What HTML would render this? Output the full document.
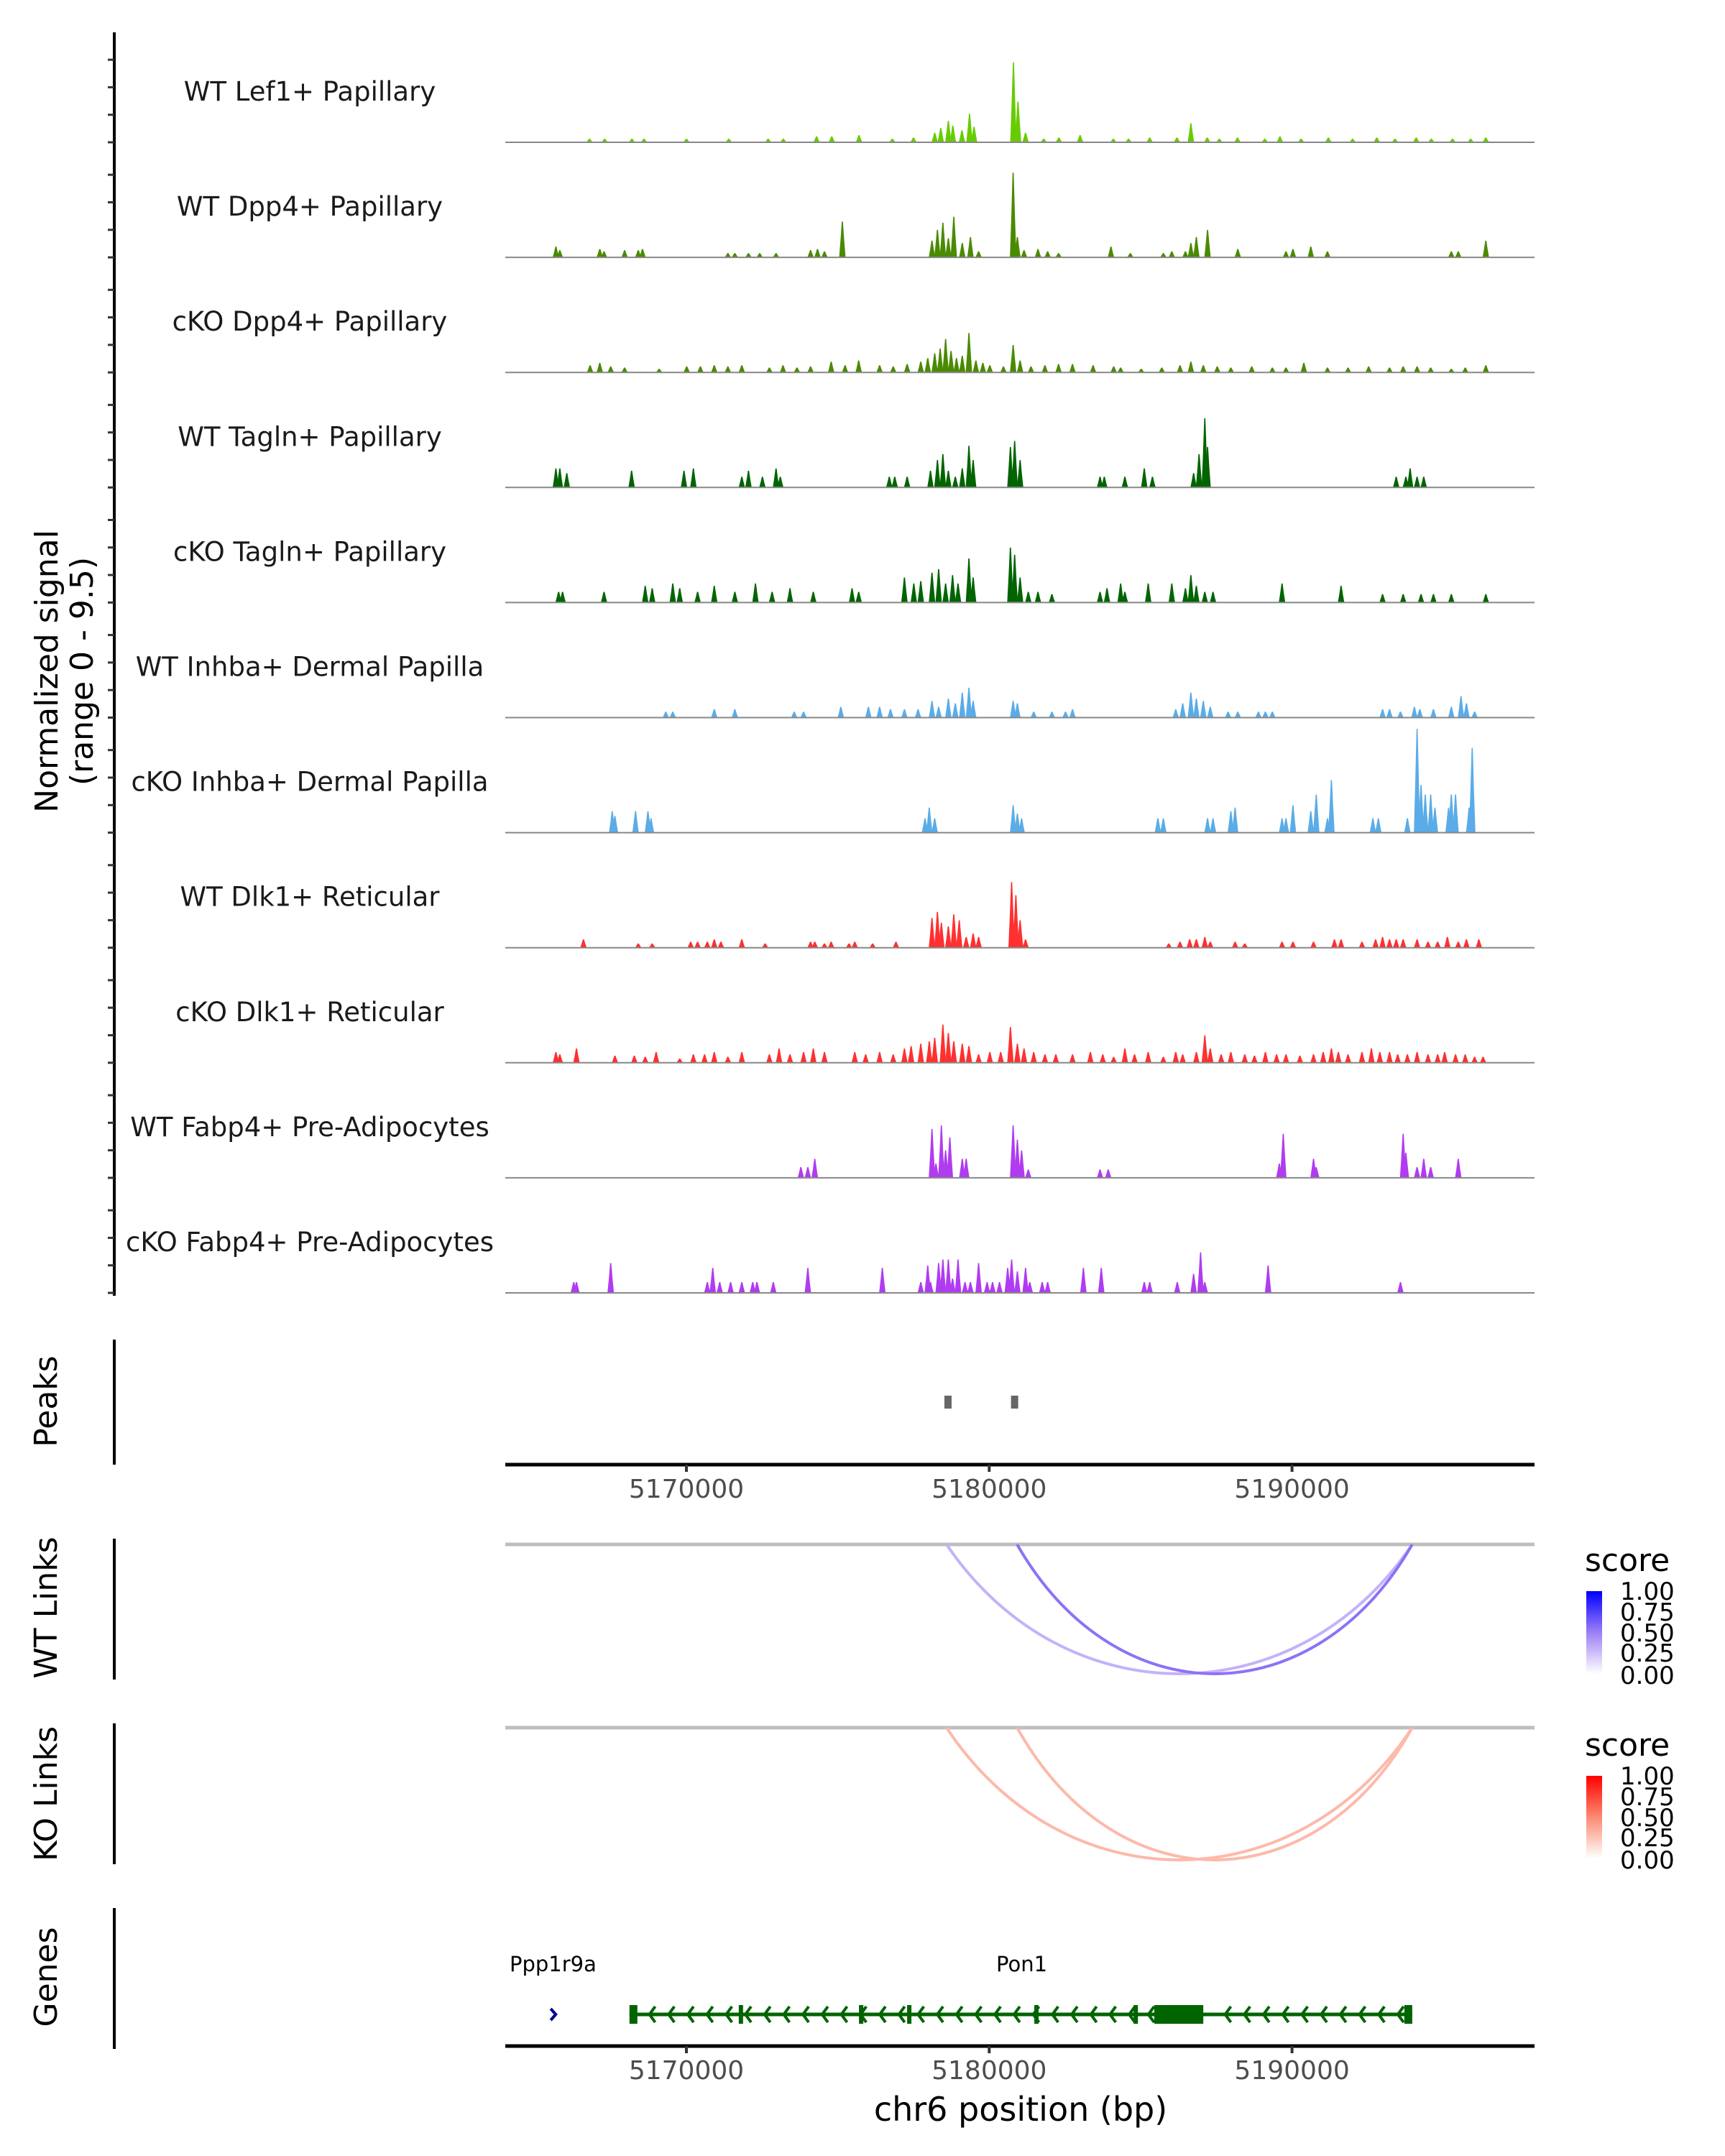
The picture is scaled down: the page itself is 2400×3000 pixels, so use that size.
<!DOCTYPE html>
<html><head><meta charset="utf-8">
<style>
html,body{margin:0;padding:0;background:#fff;}
svg{display:block;font-family:"DejaVu Sans","Liberation Sans",sans-serif;}
</style></head>
<body>
<svg id="fig" width="2400" height="3000" viewBox="0 0 2400 3000" xmlns="http://www.w3.org/2000/svg">
  <g id="tracks"></g>
  <line x1="159" y1="45" x2="159" y2="1803" stroke="#000" stroke-width="4"/>
  <g id="yticks"></g>
  <text transform="translate(80,934) rotate(-90)" text-anchor="middle" font-size="44" fill="#000">Normalized signal</text>
  <text transform="translate(129,934) rotate(-90)" text-anchor="middle" font-size="44" fill="#000">(range 0 - 9.5)</text>

  <line x1="159" y1="1864" x2="159" y2="2038" stroke="#000" stroke-width="4"/>
  <text transform="translate(79,1950) rotate(-90)" text-anchor="middle" font-size="44">Peaks</text>
  <g id="peaks"></g>
  <g id="xaxis1"></g>

  <line x1="159" y1="2141" x2="159" y2="2337" stroke="#000" stroke-width="4"/>
  <text transform="translate(79,2237) rotate(-90)" text-anchor="middle" font-size="44">WT Links</text>
  <g id="wtlinks"></g>

  <line x1="159" y1="2398" x2="159" y2="2594" stroke="#000" stroke-width="4"/>
  <text transform="translate(79,2496) rotate(-90)" text-anchor="middle" font-size="44">KO Links</text>
  <g id="kolinks"></g>

  <line x1="159" y1="2655" x2="159" y2="2851" stroke="#000" stroke-width="4"/>
  <text transform="translate(79,2751) rotate(-90)" text-anchor="middle" font-size="44">Genes</text>
  <g id="genes"></g>
  <g id="xaxis2"></g>
  <text x="1420" y="2951" text-anchor="middle" font-size="46">chr6 position (bp)</text>

  <defs>
    <linearGradient id="gradWT" x1="0" y1="1" x2="0" y2="0">
      <stop offset="0" stop-color="#ffffff"/><stop offset="0.5" stop-color="#9d7ff5"/><stop offset="1" stop-color="#0000ff"/>
    </linearGradient>
    <linearGradient id="gradKO" x1="0" y1="1" x2="0" y2="0">
      <stop offset="0" stop-color="#ffffff"/><stop offset="0.5" stop-color="#fb8a72"/><stop offset="1" stop-color="#ff0000"/>
    </linearGradient>
  </defs>
  <g>
    <text x="2205" y="2186" font-size="44">score</text>
    <rect x="2207" y="2214" width="22" height="115" fill="url(#gradWT)"/>
    <g font-size="34">
      <text x="2254" y="2226">1.00</text><text x="2254" y="2255">0.75</text><text x="2254" y="2284">0.50</text><text x="2254" y="2312">0.25</text><text x="2254" y="2343">0.00</text>
    </g>
  </g>
  <g>
    <text x="2205" y="2443" font-size="44">score</text>
    <rect x="2207" y="2471" width="22" height="115" fill="url(#gradKO)"/>
    <g font-size="34">
      <text x="2254" y="2483">1.00</text><text x="2254" y="2512">0.75</text><text x="2254" y="2541">0.50</text><text x="2254" y="2569">0.25</text><text x="2254" y="2600">0.00</text>
    </g>
  </g>
</svg>
<script>
// ---- data (positions in kb on chr6, values in normalized signal) ----
const trackNames = ["WT Lef1+ Papillary","WT Dpp4+ Papillary","cKO Dpp4+ Papillary","WT Tagln+ Papillary","cKO Tagln+ Papillary","WT Inhba+ Dermal Papilla","cKO Inhba+ Dermal Papilla","WT Dlk1+ Reticular","cKO Dlk1+ Reticular","WT Fabp4+ Pre-Adipocytes","cKO Fabp4+ Pre-Adipocytes"];
const trackColors = ["#66cc00","#4a8a00","#4a8a00","#006400","#006400","#5aace8","#5aace8","#ff3030","#ff3030","#b03cf0","#b03cf0"];
const sigLef1WT = [[5166.8,.3],[5167.3,.3],[5168.2,.3],[5168.6,.3],[5170,.3],[5171.4,.3],[5172.7,.3],[5173.2,.3],[5174.3,.5],[5174.8,.5],[5175.7,.6],[5176.8,.3],[5177.5,.4],[5178.2,.8],[5178.4,1.2],[5178.65,1.8],[5178.8,1.4],[5179.1,1.0],[5179.35,2.4],[5179.5,1.3],[5180.8,6.7],[5180.95,3.4],[5181.2,.8],[5181.8,.3],[5182.3,.4],[5183.0,.6],[5184.1,.3],[5184.6,.3],[5185.3,.4],[5186.2,.4],[5186.66,1.6],[5187.2,.4],[5187.6,.3],[5188.2,.4],[5189.1,.3],[5189.6,.5],[5190.3,.3],[5191.2,.4],[5192.0,.3],[5192.8,.4],[5193.4,.3],[5194.1,.4],[5194.6,.3],[5195.3,.3],[5195.9,.3],[5196.4,.4]];
const sigDpp4WT = [[5165.69,.9],[5165.82,.6],[5167.14,.7],[5167.28,.5],[5167.96,.6],[5168.41,.6],[5168.55,.7],[5171.37,.35],[5171.6,.35],[5172.05,.35],[5172.42,.35],[5172.96,.35],[5174.1,.6],[5174.33,.7],[5174.56,.5],[5175.15,3.0],[5178.11,1.4],[5178.29,2.3],[5178.47,2.9],[5178.65,1.6],[5178.83,3.4],[5179.11,1.2],[5179.38,1.7],[5179.65,.5],[5180.79,7.1],[5180.93,1.7],[5181.15,.6],[5181.61,.7],[5181.93,.5],[5182.29,.35],[5184.02,.9],[5184.66,.35],[5185.75,.35],[5186.03,.5],[5186.48,.5],[5186.66,1.2],[5186.84,1.7],[5187.21,2.3],[5188.21,.7],[5189.8,.5],[5190.03,.7],[5190.62,.9],[5191.17,.5],[5195.26,.5],[5195.49,.5],[5196.4,1.4]];
const sigDpp4KO = [[5166.82,.6],[5167.14,.8],[5167.5,.5],[5167.96,.4],[5169.1,.3],[5170.01,.5],[5170.46,.5],[5170.92,.6],[5171.37,.5],[5171.83,.6],[5172.74,.4],[5173.19,.6],[5173.65,.4],[5174.1,.5],[5174.78,.9],[5175.24,.6],[5175.69,1.0],[5176.38,.6],[5176.83,.5],[5177.29,.7],[5177.74,.9],[5177.97,1.2],[5178.2,1.6],[5178.38,2.0],[5178.56,2.8],[5178.74,1.8],[5178.92,1.2],[5179.11,1.4],[5179.33,3.3],[5179.56,1.0],[5179.79,.8],[5180.02,.6],[5180.47,.5],[5180.79,2.3],[5181.02,1.0],[5181.38,.5],[5181.84,.6],[5182.29,.7],[5182.75,.7],[5183.43,.6],[5184.11,.5],[5184.34,.4],[5185.02,.3],[5185.7,.4],[5186.3,.6],[5186.66,.9],[5187.07,.6],[5187.53,.5],[5187.98,.4],[5188.67,.5],[5189.35,.4],[5189.8,.4],[5190.39,.8],[5191.17,.4],[5191.85,.4],[5192.53,.5],[5193.22,.4],[5193.67,.5],[5194.13,.5],[5194.58,.4],[5195.26,.3],[5195.72,.4],[5196.4,.6]];
const sigTaglnWT = [[5165.69,1.6],[5165.82,1.6],[5166.05,1.2],[5168.19,1.4],[5169.92,1.4],[5170.23,1.6],[5171.83,.9],[5172.05,1.4],[5172.51,.9],[5172.96,1.6],[5173.1,.9],[5176.7,.9],[5176.88,.9],[5177.29,.9],[5178.06,1.4],[5178.29,2.3],[5178.47,2.8],[5178.65,1.4],[5178.88,.9],[5179.11,1.6],[5179.33,3.5],[5179.47,2.3],[5180.7,3.4],[5180.84,3.9],[5181.02,2.3],[5183.66,.9],[5183.8,.9],[5184.48,.9],[5185.12,1.6],[5185.39,.9],[5186.75,1.2],[5186.93,2.8],[5187.12,5.8],[5187.21,3.4],[5193.44,.9],[5193.76,.9],[5193.9,1.6],[5194.13,.9],[5194.35,.9]];
const sigTaglnKO = [[5165.78,.9],[5165.91,.9],[5167.28,.9],[5168.64,1.4],[5168.87,1.2],[5169.55,1.6],[5169.78,1.2],[5170.37,.9],[5170.92,1.4],[5171.6,.9],[5172.28,1.6],[5172.83,.9],[5173.42,1.2],[5174.19,.9],[5175.47,1.2],[5175.69,.9],[5177.2,2.1],[5177.51,1.6],[5177.74,1.8],[5178.11,2.5],[5178.33,2.8],[5178.56,1.6],[5178.79,2.3],[5178.97,1.6],[5179.33,3.7],[5179.47,2.1],[5180.7,4.6],[5180.84,4.0],[5181.02,2.1],[5181.29,.9],[5181.61,.9],[5182.07,.7],[5183.66,.9],[5183.89,1.2],[5184.34,1.6],[5184.48,.9],[5185.25,1.6],[5186.03,1.6],[5186.48,1.2],[5186.66,2.3],[5186.84,1.4],[5187.12,.9],[5187.39,.9],[5189.67,1.6],[5191.62,1.4],[5192.99,.7],[5193.67,.7],[5194.26,.7],[5194.67,.7],[5195.26,.7],[5196.4,.7]];
const sigInhbaWT = [[5169.32,.5],[5169.55,.5],[5170.92,.7],[5171.6,.7],[5173.56,.5],[5173.87,.5],[5175.1,.9],[5176.01,.9],[5176.38,.9],[5176.74,.7],[5177.2,.7],[5177.65,.7],[5178.11,1.4],[5178.33,.9],[5178.65,1.6],[5178.88,1.2],[5179.11,2.1],[5179.33,2.5],[5179.47,1.4],[5180.79,1.4],[5180.93,1.2],[5181.47,.5],[5182.07,.5],[5182.52,.5],[5182.75,.7],[5186.16,.7],[5186.39,1.2],[5186.66,2.1],[5186.84,1.6],[5187.07,1.4],[5187.3,.9],[5187.89,.5],[5188.21,.5],[5188.89,.5],[5189.12,.5],[5189.35,.5],[5192.99,.7],[5193.22,.7],[5193.58,.5],[5194.04,.9],[5194.22,.7],[5194.67,.7],[5195.26,.9],[5195.58,1.8],[5195.76,1.2],[5196.03,.5]];
const sigInhbaKO = [[5167.55,1.8],[5167.64,1.4],[5168.32,1.8],[5168.73,1.8],[5168.83,1.2],[5177.88,1.2],[5178.02,2.1],[5178.2,1.2],[5180.79,2.3],[5180.93,1.6],[5181.07,1.2],[5185.57,1.2],[5185.75,1.2],[5187.21,1.2],[5187.39,1.2],[5187.98,1.8],[5188.12,2.1],[5189.67,1.2],[5189.8,1.2],[5190.03,2.3],[5190.62,1.8],[5190.8,3.2],[5191.17,1.2],[5191.3,4.4],[5192.67,1.2],[5192.85,1.2],[5193.81,1.2],[5194.13,8.7],[5194.26,4.0],[5194.4,3.2],[5194.58,3.2],[5194.72,2.1],[5195.17,2.1],[5195.26,3.2],[5195.4,3.2],[5195.85,2.1],[5195.95,7.1]];
const sigDlk1WT = [[5166.6,.7],[5168.41,.35],[5168.87,.35],[5170.14,.5],[5170.37,.5],[5170.69,.5],[5170.92,.7],[5171.14,.5],[5171.83,.7],[5172.6,.35],[5174.1,.5],[5174.24,.5],[5174.56,.35],[5174.78,.5],[5175.37,.35],[5175.56,.5],[5176.15,.35],[5176.92,.5],[5178.11,2.5],[5178.29,3.0],[5178.42,2.1],[5178.65,1.8],[5178.83,2.8],[5179.01,2.3],[5179.24,.9],[5179.47,1.2],[5179.65,.9],[5180.74,5.5],[5180.88,4.4],[5181.02,2.3],[5181.2,.7],[5185.93,.35],[5186.3,.5],[5186.62,.7],[5186.84,.7],[5187.12,.9],[5187.3,.5],[5188.12,.5],[5188.44,.35],[5189.67,.5],[5190.03,.5],[5190.71,.5],[5191.4,.7],[5191.62,.7],[5192.31,.5],[5192.76,.7],[5192.99,.9],[5193.22,.7],[5193.44,.7],[5193.67,.7],[5194.13,.7],[5194.49,.5],[5194.81,.5],[5195.13,.9],[5195.49,.5],[5195.76,.7],[5196.17,.7]];
const sigDlk1KO = [[5165.69,.9],[5165.82,.7],[5166.37,1.2],[5167.64,.6],[5168.28,.6],[5168.64,.5],[5169.0,.9],[5169.78,.35],[5170.23,.7],[5170.6,.7],[5170.92,.9],[5171.37,.5],[5171.83,.9],[5172.74,.7],[5173.06,1.2],[5173.42,.7],[5173.87,.9],[5174.19,1.2],[5174.56,.9],[5175.56,.9],[5175.92,.7],[5176.38,.9],[5176.83,.7],[5177.2,1.2],[5177.42,1.4],[5177.74,1.6],[5178.02,1.8],[5178.2,2.1],[5178.47,3.2],[5178.65,2.5],[5178.83,1.8],[5179.11,1.6],[5179.33,1.4],[5179.65,.7],[5180.02,.9],[5180.38,.9],[5180.7,3.0],[5180.93,1.6],[5181.15,1.2],[5181.47,.9],[5181.84,.7],[5182.2,.7],[5182.75,.7],[5183.34,.9],[5183.75,.7],[5184.11,.5],[5184.48,1.2],[5184.8,.7],[5185.25,.9],[5185.75,.5],[5186.16,.9],[5186.39,.7],[5186.84,.9],[5187.12,2.3],[5187.3,1.2],[5187.66,.7],[5187.98,.9],[5188.44,.7],[5188.76,.6],[5189.12,.9],[5189.49,.7],[5189.8,.7],[5190.26,.6],[5190.71,.7],[5191.03,.9],[5191.3,1.2],[5191.53,.9],[5191.85,.7],[5192.31,.9],[5192.62,1.2],[5192.9,.9],[5193.22,.9],[5193.49,.7],[5193.81,.7],[5194.13,.9],[5194.49,.7],[5194.81,.7],[5195.04,.9],[5195.4,.7],[5195.72,.7],[5196.03,.5],[5196.31,.5]];
const sigFabp4WT = [[5173.78,.9],[5174.01,.9],[5174.24,1.6],[5178.11,4.1],[5178.24,1.2],[5178.42,4.4],[5178.56,2.3],[5178.7,3.4],[5179.11,1.6],[5179.24,1.6],[5180.79,4.4],[5180.93,3.2],[5181.07,2.3],[5181.29,.7],[5183.66,.7],[5183.93,.7],[5189.58,1.2],[5189.71,3.7],[5190.71,1.6],[5190.8,.9],[5193.67,3.7],[5193.76,2.1],[5194.13,.9],[5194.35,1.6],[5194.58,.9],[5195.49,1.6]];
const sigFabp4KO = [[5166.28,.9],[5166.37,.9],[5167.5,2.5],[5170.69,.9],[5170.87,2.1],[5171.1,.9],[5171.46,.9],[5171.83,.9],[5172.19,.9],[5172.33,.9],[5172.87,.9],[5174.01,2.1],[5176.47,2.1],[5177.74,.9],[5177.97,2.3],[5178.06,.9],[5178.33,2.5],[5178.47,2.8],[5178.65,2.8],[5178.79,1.2],[5178.97,2.8],[5179.2,.9],[5179.38,.9],[5179.65,2.5],[5179.93,.9],[5180.11,.9],[5180.34,.9],[5180.61,2.1],[5180.74,2.8],[5180.93,1.8],[5181.2,2.1],[5181.34,.9],[5181.75,.9],[5181.93,.9],[5183.11,2.1],[5183.7,2.1],[5185.12,.9],[5185.3,.9],[5186.21,.9],[5186.75,1.6],[5186.98,3.4],[5187.12,.9],[5189.21,2.3],[5193.58,.9]];
const trackSignals = [sigLef1WT,sigDpp4WT,sigDpp4KO,sigTaglnWT,sigTaglnKO,sigInhbaWT,sigInhbaKO,sigDlk1WT,sigDlk1KO,sigFabp4WT,sigFabp4KO];
const xTicks = [5170000,5180000,5190000];
const peakStarts = [5178.52,5180.72];
const peakEnds = [5178.66,5180.95];
const wtLinkStarts = [5178.59,5180.92];
const wtLinkEnds = [5193.97,5193.97];
const wtLinkScores = [0.3,0.55];
const koLinkStarts = [5178.59,5180.92];
const koLinkEnds = [5193.97,5193.97];
const koLinkScores = [0.3,0.3];
const geneStart = 5168.12, geneEnd = 5193.97;
const exonPositions = [5171.80,5175.77,5177.36,5181.56,5184.84];
const cdsStart = 5185.45, cdsEnd = 5187.07;
const otherGenePos = 5165.59;

// ---- scales ----
const NS="http://www.w3.org/2000/svg";
const PLOT_L = 703, PLOT_R = 2135;
function X(kb){ return 955 + (kb-5170)*42.13; }
const PXPERUNIT = 16.6;
const base0 = 198, trackStep = 160.1;
function mk(tag, attrs, parent){ const e=document.createElementNS(NS,tag); for(const k in attrs) e.setAttribute(k,attrs[k]); parent.appendChild(e); return e; }

// ---- tracks ----
const gT = document.getElementById('tracks');
trackNames.forEach((name,i)=>{
  const b = base0 + i*trackStep;
  const g = mk('g',{},gT);
  
  
  const lbl = mk('text',{x:431,y:b-58,'text-anchor':'middle','font-size':37,fill:'#1a1a1a'},g);
  lbl.textContent = name;
  
  
  trackSignals[i].forEach(([kb,v])=>{
    const x = X(kb), h = v*PXPERUNIT;
    const p = mk('polygon',{points:`${x-4.5},${b} ${x-2.5},${b-h*0.5} ${x-0.8},${b-h} ${x+0.8},${b-h} ${x+2.5},${b-h*0.5} ${x+4.5},${b}`,fill:trackColors[i]},g);
    
    
  });
  const bl = mk('line',{x1:PLOT_L,x2:PLOT_R,y1:b,y2:b,stroke:'#888','stroke-width':2},g);
  
  
});
const gY = document.getElementById('yticks');
for(let i=0;i<11;i++){
  for(let k=0;k<4;k++){
    const y = base0 + i*trackStep - k*38.3;
    const t = mk('line',{x1:150,x2:159,y1:y,y2:y,stroke:'#333','stroke-width':3},gY);
    
    
  }
}

// ---- peaks ----
const gP = document.getElementById('peaks');
peakStarts.forEach((s,i)=>{
  const r = mk('rect',{x:X(s),y:1942,width:Math.max(10,X(peakEnds[i])-X(s)),height:18,fill:'#666'},gP);
  
  
});

// ---- x axes ----
function xAxis(id, y){
  const g = document.getElementById(id);
  const l = mk('line',{x1:PLOT_L,x2:PLOT_R,y1:y,y2:y,stroke:'#000','stroke-width':5},g);
  
  
  xTicks.forEach(t=>{
    const x = X(t/1000);
    const tk = mk('line',{x1:x,x2:x,y1:y,y2:y+10,stroke:'#333','stroke-width':4},g);
    
    
    const tx = mk('text',{x:x,y:y+46,'text-anchor':'middle','font-size':36,fill:'#4d4d4d'},g);
    tx.textContent = String(t);
    
    
  });
}
xAxis('xaxis1',2038);
xAxis('xaxis2',2847);

// ---- links ----
function mix(c1,c2,t){ return c1.map((v,i)=>Math.round(v+(c2[i]-v)*t)); }
function scoreColor(s, mid, end){
  const w=[255,255,255];
  const c = s<0.5 ? mix(w,mid,s/0.5) : mix(mid,end,(s-0.5)/0.5);
  return `rgb(${c[0]},${c[1]},${c[2]})`;
}
function links(id, top, depth, starts, ends, scores, mid, end){
  const g = document.getElementById(id);
  const bl = mk('line',{x1:PLOT_L,x2:PLOT_R,y1:top,y2:top,stroke:'#bebebe','stroke-width':5},g);
  
  
  starts.forEach((s,i)=>{
    const x1=X(s), x2=X(ends[i]);
    const p = mk('path',{d:`M${x1},${top} C${x1+(x2-x1)*0.25},${top+depth*1.333} ${x1+(x2-x1)*0.75},${top+depth*1.333} ${x2},${top}`,fill:'none',stroke:scoreColor(scores[i],mid,end),'stroke-width':4},g);
    
    
  });
}
links('wtlinks',2149,180,wtLinkStarts,wtLinkEnds,wtLinkScores,[157,127,245],[0,0,255]);
links('kolinks',2404,184,koLinkStarts,koLinkEnds,koLinkScores,[251,138,114],[255,0,0]);

// ---- genes ----
const gG = document.getElementById('genes');
const gy = 2803, gc = '#006400';
const gl = mk('line',{x1:X(geneStart),x2:X(geneEnd),y1:gy,y2:gy,stroke:gc,'stroke-width':5},gG);


for(let x=X(geneEnd)-20; x>X(geneStart)+10; x-=26.7){
  if(x>X(cdsStart)-4 && x<X(cdsEnd)+4) continue;
  const c = mk('polyline',{points:`${x+8},${gy-11} ${x},${gy} ${x+8},${gy+11}`,fill:'none',stroke:gc,'stroke-width':4},gG);
  
  
}
[geneStart, geneEnd].forEach(p=>{
  const r = mk('rect',{x:X(p)-(p===geneStart?0:11),y:gy-13,width:11,height:26,fill:gc},gG);
  
  
});
exonPositions.forEach(p=>{
  const r = mk('rect',{x:X(p)-3,y:gy-13,width:6,height:26,fill:gc},gG);
  
  
});
const cds = mk('rect',{x:X(cdsStart),y:gy-13,width:X(cdsEnd)-X(cdsStart),height:26,fill:gc},gG);


const og = mk('polyline',{points:`${X(otherGenePos)-3},${gy-8} ${X(otherGenePos)+4},${gy} ${X(otherGenePos)-3},${gy+8}`,fill:'none',stroke:'#00008b','stroke-width':4},gG);


const t1 = mk('text',{x:709,y:2743,'font-size':29,fill:'#000'},gG);
t1.textContent='Ppp1r9a';


const t2 = mk('text',{x:1386,y:2743,'font-size':29,fill:'#000'},gG);
t2.textContent='Pon1';


</script>
</body></html>
